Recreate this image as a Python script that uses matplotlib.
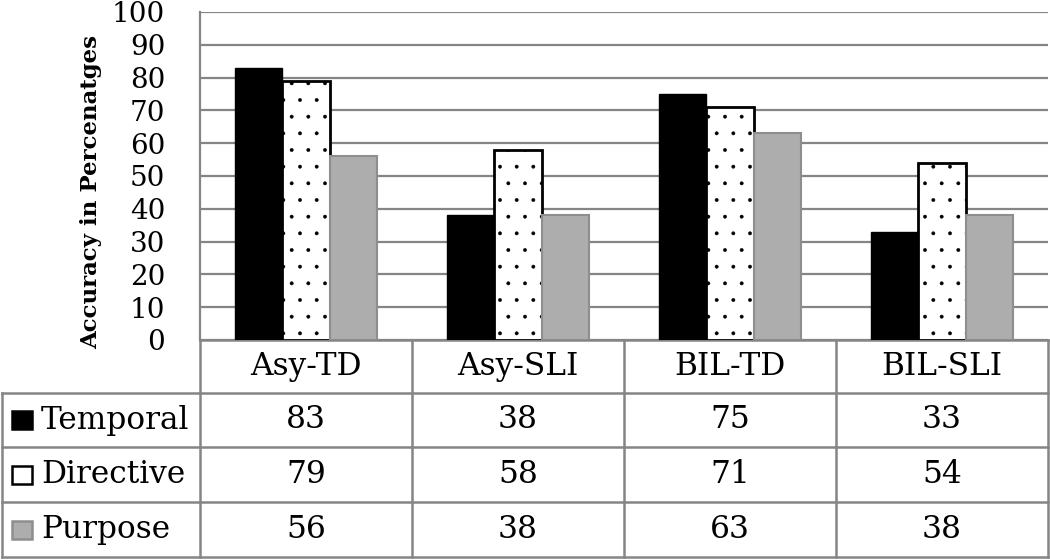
import numpy as np
import matplotlib.pyplot as plt

# data
groups = ["Asy-TD", "Asy-SLI", "BIL-TD", "BIL-SLI"]
series = ["Temporal", "Directive", "Purpose"]
temporal = [83, 38, 75, 33]
directive = [79, 58, 71, 54]
purpose = [56, 38, 63, 38]
yticks = list(range(0, 101, 10))

plt.rcParams['font.family'] = ['DejaVu Serif']
plt.rcParams['hatch.linewidth'] = 0.3

W, H = 1050, 560
fig = plt.figure(figsize=(W / 100, H / 100), dpi=100)

def px(x0, y0, x1, y1):
    # pixel box (top-left origin) -> figure fraction rect
    return [x0 / W, 1 - y1 / H, (x1 - x0) / W, (y1 - y0) / H]

grid_c = "#858585"
left, right, top, bottom = 200, 1048, 12, 340
ax = fig.add_axes(px(left, top, right, bottom))

x = np.arange(len(groups))
w = 0.222
ax.bar(x - w, temporal, w, color="black", edgecolor="black", linewidth=1, zorder=3)
ax.bar(x, directive, w, color="white", edgecolor="black", linewidth=2, hatch=".", zorder=3)
ax.bar(x + w, purpose, w, color="#adadad", edgecolor="#8e8e8e", linewidth=1.5, zorder=3)

ax.set_xlim(-0.5, len(groups) - 0.5)
ax.set_ylim(0, 100)
ax.set_yticks(yticks)
ax.yaxis.grid(True, color=grid_c, linewidth=1.6, zorder=0)
ax.set_xticks([])
ax.tick_params(axis="y", length=0, pad=25, labelsize=20)
for s in ["top", "right", "bottom"]:
    ax.spines[s].set_visible(False)
ax.spines["left"].set_color(grid_c)
ax.spines["left"].set_linewidth(1.6)
ax.set_ylabel("Accuracy in Percenatges", fontsize=16.5, fontweight="bold")
ax.yaxis.set_label_coords(-0.116, 0.45)

# data table below the plot, drawn in pixel coordinates
tb = fig.add_axes([0, 0, 1, 1], zorder=-1)
tb.set_xlim(0, W)
tb.set_ylim(H, 0)
tb.axis("off")

row_y = [340, 393, 447, 502, 557]
col_w = (right - left) / len(groups)
col_x = [left + i * col_w for i in range(len(groups) + 1)]
lw = 1.8

# horizontal rules
tb.plot([left, right], [row_y[0], row_y[0]], color=grid_c, lw=lw)
for yy in row_y[1:]:
    tb.plot([2, right], [yy, yy], color=grid_c, lw=lw)
# vertical rules
for xx in col_x:
    tb.plot([xx, xx], [row_y[0], row_y[-1]], color=grid_c, lw=lw)
tb.plot([2, 2], [row_y[1], row_y[-1]], color=grid_c, lw=lw)

fs = 22.5
for i, g in enumerate(groups):
    tb.text(col_x[i] + col_w / 2, (row_y[0] + row_y[1]) / 2, g,
            ha="center", va="center", fontsize=fs)

values = [temporal, directive, purpose]
keys = [("black", "black"), ("white", "black"), ("#adadad", "#8e8e8e")]
for r, (name, vals, (fc, ec)) in enumerate(zip(series, values, keys)):
    yc = (row_y[r + 1] + row_y[r + 2]) / 2
    tb.add_patch(plt.Rectangle((12, yc - 9), 20, 18, facecolor=fc,
                               edgecolor=ec, linewidth=1.8))
    tb.text(41, yc, name, ha="left", va="center", fontsize=fs)
    for i, v in enumerate(vals):
        tb.text(col_x[i] + col_w / 2, yc, str(v), ha="center", va="center", fontsize=fs)

fig.savefig("out.png", dpi=100)
